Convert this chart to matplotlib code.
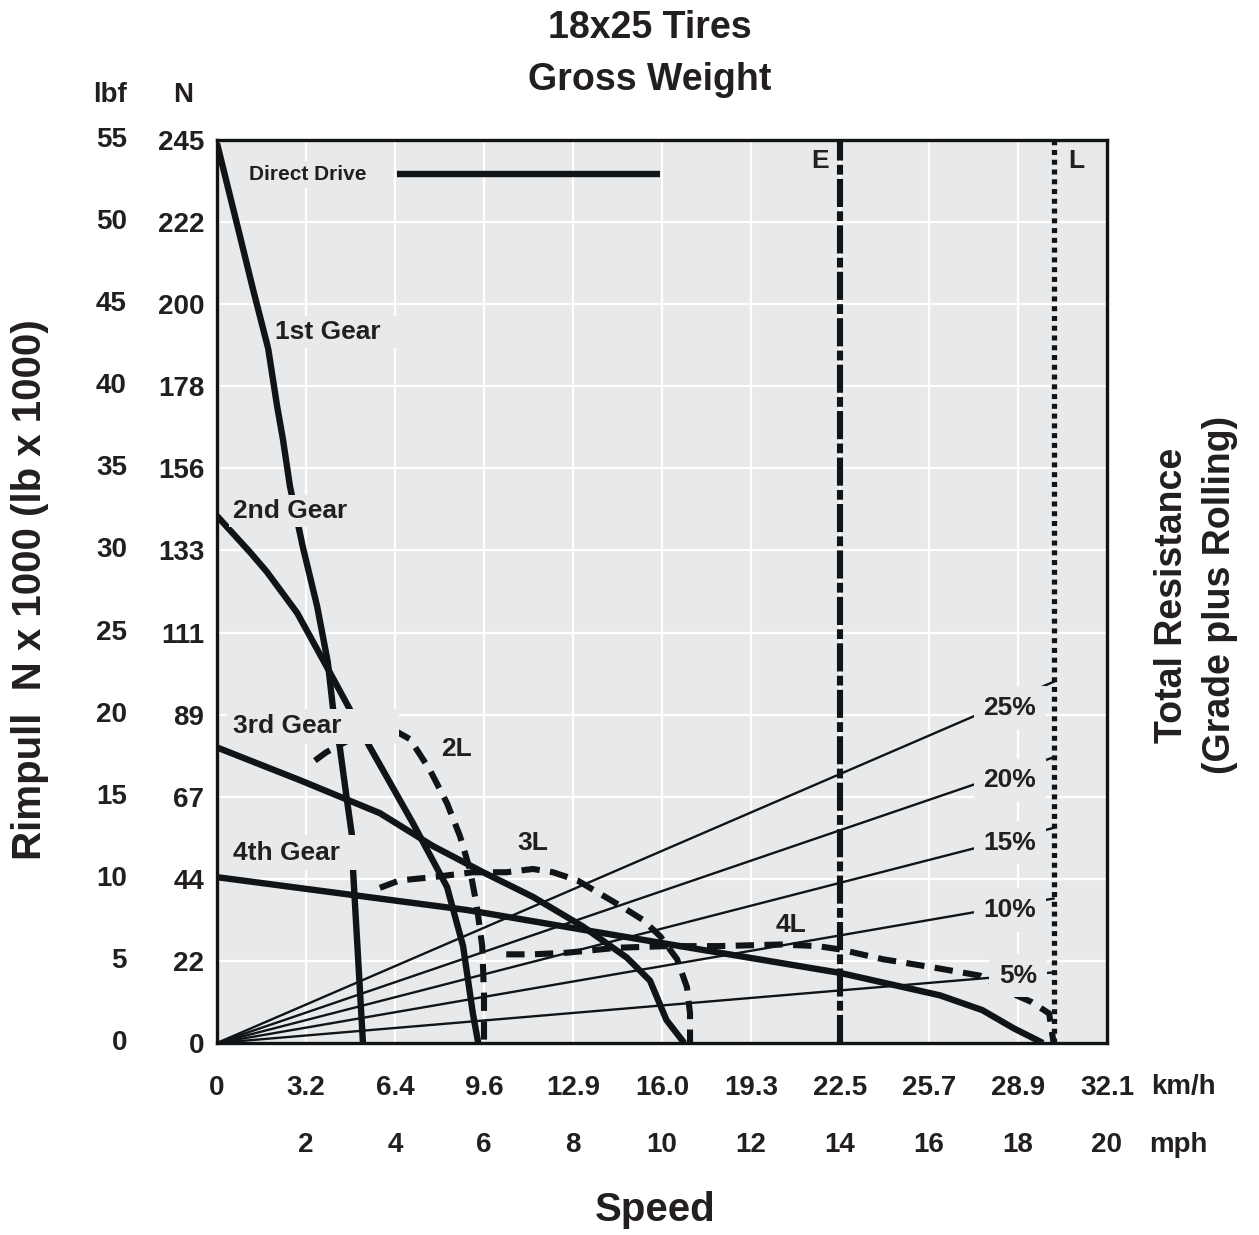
import matplotlib
matplotlib.use("Agg")
import matplotlib.pyplot as plt
from matplotlib import font_manager, transforms

# speed in mph, rimpull in lb x 1000
gear1_mph = [0, 0.52, 0.81, 1.15, 1.35, 1.48, 1.64, 1.93, 2.25, 2.49, 2.61, 2.76, 2.92, 3.03, 3.06, 3.28]
gear1_lb = [54.8, 49.1, 45.9, 42.3, 38.8, 36.8, 33.9, 30.2, 26.6, 23.2, 20.3, 18.0, 14.8, 12.7, 10.4, 0]

gear2_mph = [0, 0.74, 1.12, 1.8, 2.47, 2.99, 3.44, 4.40, 5.17, 5.53, 5.75, 5.87]
gear2_lb = [32.1, 29.9, 28.7, 26.2, 22.9, 20.3, 18.0, 13.4, 9.5, 5.9, 1.8, 0]

gear3_mph = [0, 1.87, 3.66, 4.85, 5.98, 7.1, 8.22, 9.21, 9.73, 10.1, 10.5]
gear3_lb = [18.0, 16.0, 14.0, 12.0, 10.4, 8.9, 7.1, 5.2, 3.8, 1.4, 0]

gear4_mph = [0, 3.37, 5.62, 8.22, 10.85, 14.0, 16.25, 17.2, 17.9, 18.56]
gear4_lb = [10.1, 8.9, 8.1, 6.9, 5.7, 4.27, 2.9, 2.0, 0.9, 0]

l2_mph = [2.2, 2.45, 3.0, 3.6, 3.95, 4.34, 4.79, 5.17, 5.46, 5.69, 5.84, 5.96, 6.0, 6.0]
l2_lb = [17.2, 17.7, 18.5, 19.0, 19.1, 18.5, 16.6, 14.6, 12.6, 10.5, 8.3, 5.9, 3.0, 0]

l3_mph = [3.66, 4.1, 4.85, 5.75, 6.5, 7.1, 7.55, 8.1, 8.6, 9.1, 9.57, 9.96, 10.34, 10.56, 10.63, 10.63]
l3_lb = [9.45, 9.9, 10.1, 10.4, 10.4, 10.6, 10.4, 9.9, 9.1, 8.3, 7.5, 6.5, 5.1, 3.4, 1.8, 0]

l4_mph = [6.5, 7.1, 7.87, 8.99, 10.1, 11.24, 12.7, 13.5, 14.0, 14.97, 16.1, 17.15, 17.8, 18.3, 18.7, 18.8]
l4_lb = [5.4, 5.4, 5.5, 5.8, 5.9, 5.9, 6.0, 5.9, 5.7, 5.1, 4.6, 4.1, 3.1, 2.5, 1.8, 0]

direct_mph = [4.04, 9.96]
direct_lb = [52.9, 52.9]

e_mph = 14.0
l_mph = 18.8

grade_pct = ["5%", "10%", "15%", "20%", "25%"]
grade_lb_at_l = [4.3, 8.8, 13.1, 17.4, 22.0]

mph_ticks = [0, 2, 4, 6, 8, 10, 12, 14, 16, 18, 20]
kmh_labels = ["0", "3.2", "6.4", "9.6", "12.9", "16.0", "19.3", "22.5", "25.7", "28.9", "32.1"]
lb_ticks = [0, 5, 10, 15, 20, 25, 30, 35, 40, 45, 50, 55]
n_labels = ["0", "22", "44", "67", "89", "111", "133", "156", "178", "200", "222", "245"]

names = {f.name for f in font_manager.fontManager.ttflist}
narrow = "Liberation Sans Narrow" if "Liberation Sans Narrow" in names else "Liberation Sans"
plt.rcParams["font.family"] = [narrow, "DejaVu Sans"]
plt.rcParams["font.weight"] = "bold"

ink = "#111416"
txt = "#231f20"
bg = "#e8e9ea"

fig = plt.figure(figsize=(12.59, 12.35), dpi=100)
ax = fig.add_axes([217 / 1259, 192 / 1235, 890 / 1259, 903 / 1235])
ax.set_facecolor(bg)
ax.set_xlim(0, 20)
ax.set_ylim(0, 55)

for x in range(2, 20, 2):
    ax.axvline(x, color="white", lw=1.6, zorder=1)
for y in range(5, 55, 5):
    ax.axhline(y, color="white", lw=1.6, zorder=1)

# grade resistance lines
for v in grade_lb_at_l:
    ax.plot([0, l_mph], [0, v], color=ink, lw=1.7, zorder=2)

gear_kw = dict(color=ink, lw=4.6, zorder=3, solid_capstyle="butt")
ax.plot(gear1_mph, gear1_lb, **gear_kw)
ax.plot(gear2_mph, gear2_lb, **gear_kw)
ax.plot(gear3_mph, gear3_lb, **gear_kw)
ax.plot(gear4_mph, gear4_lb, **gear_kw)

dash_kw = dict(color=ink, lw=4.4, zorder=3, linestyle=(0, (3.0, 1.7)), dash_capstyle="butt")
ax.plot(l2_mph, l2_lb, **dash_kw)
ax.plot(l3_mph, l3_lb, **dash_kw)
ax.plot(l4_mph, l4_lb, **dash_kw)

ax.plot(direct_mph, direct_lb, color=ink, lw=4.6, zorder=3, solid_capstyle="butt")

ax.axvline(e_mph, color=ink, lw=4.4, zorder=4, linestyle=(0, (4.6, 0.7, 1.6, 0.7)))
ax.axvline(l_mph, color=ink, lw=3.8, zorder=4, linestyle=(0, (0.95, 0.9)))

box = dict(facecolor=bg, edgecolor="none", pad=3)
lab = dict(color=txt, fontsize=19, fontweight="bold", zorder=6, va="center")
ax.text(1.30, 43.3, "1st Gear   ", bbox=box, **lab)
ax.text(0.36, 32.4, "2nd Gear", bbox=box, **lab)
ax.text(0.36, 19.3, "3rd Gear       ", bbox=dict(facecolor=bg, edgecolor="none", pad=4), **lab)
ax.text(0.36, 11.6, "4th Gear  ", bbox=dict(facecolor=bg, edgecolor="none", pad=4), **lab)
ax.text(5.39, 17.9, "2L", ha="center", bbox=box, **lab)
ax.text(7.1, 12.2, "3L", ha="center", **lab)
ax.text(12.9, 7.2, "4L", ha="center", **lab)
ax.text(0.72, 52.9, "Direct Drive", color=txt, fontsize=15, fontweight="bold",
        va="center", zorder=6, bbox=box)
ax.text(13.55, 53.7, "E", ha="center", **lab)
ax.text(19.3, 53.7, "L", ha="center", **lab)

grade_lab_x = [18.0, 17.82, 17.82, 17.82, 17.82]
grade_lab_y = [4.1, 8.1, 12.2, 16.0, 20.4]
for s, gx, gy in zip(grade_pct, grade_lab_x, grade_lab_y):
    ax.text(gx, gy, s, ha="center", bbox=dict(facecolor=bg, edgecolor="none", pad=7), **lab)

for side in ax.spines.values():
    side.set_linewidth(2.4)
    side.set_color(ink)
    side.set_zorder(5)

ax.set_xticks(mph_ticks, kmh_labels)
ax.set_yticks(lb_ticks, n_labels)
ax.tick_params(length=0, colors=txt)
ax.tick_params(axis="x", labelsize=20, pad=23)
ax.tick_params(axis="y", labelsize=20, pad=9)
for t in ax.get_xticklabels() + ax.get_yticklabels():
    t.set_fontweight("bold")

# lbf column and mph row
ty = transforms.blended_transform_factory(fig.transFigure, ax.transData)
for v in lb_ticks:
    fig.text(127 / 1259, v, str(v), transform=ty, ha="right", va="center",
             fontsize=20, fontweight="bold", color=txt)
tx = transforms.blended_transform_factory(ax.transData, fig.transFigure)
for m in mph_ticks[1:]:
    fig.text(m, 1 - 1145 / 1235, str(m), transform=tx, ha="center", va="center",
             fontsize=20, fontweight="bold", color=txt)
fig.text(1183 / 1259, 1 - 1087 / 1235, "km/h", ha="center", va="center",
         fontsize=20, fontweight="bold", color=txt)
fig.text(1178 / 1259, 1 - 1145 / 1235, "mph", ha="center", va="center",
         fontsize=20, fontweight="bold", color=txt)
fig.text(110 / 1259, 1 - 95 / 1235, "lbf", ha="center", va="center",
         fontsize=20, fontweight="bold", color=txt)
fig.text(183 / 1259, 1 - 95 / 1235, "N", ha="center", va="center",
         fontsize=20, fontweight="bold", color=txt)

fig.text(650 / 1259, 1 - 54 / 1235, "18x25 Tires\nGross Weight", ha="center", va="center",
         fontsize=27, fontweight="bold", color=txt, linespacing=1.55)
fig.text(655 / 1259, 1 - 1210 / 1235, "Speed", ha="center", va="center",
         fontsize=29, fontweight="bold", color=txt)
fig.text(30 / 1259, 1 - 590 / 1235, "Rimpull  N x 1000 (lb x 1000)", rotation=90,
         ha="center", va="center", fontsize=29, fontweight="bold", color=txt)
fig.text(1196 / 1259, 1 - 595 / 1235, "Total Resistance\n(Grade plus Rolling)", rotation=90,
         ha="center", va="center", fontsize=27, fontweight="bold", color=txt,
         family=["Liberation Sans", "DejaVu Sans"], linespacing=1.4)

fig.savefig("out.png", dpi=100, facecolor="white")
